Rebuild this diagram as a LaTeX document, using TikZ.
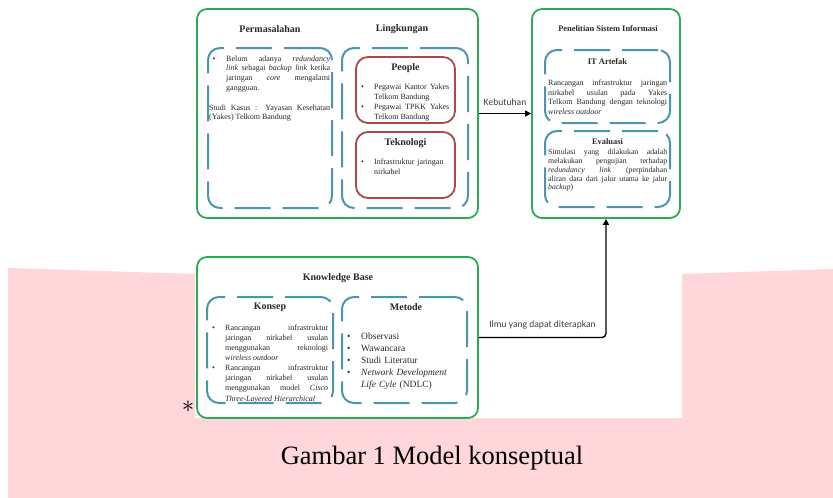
\documentclass[tikz,border=0pt]{standalone}
\usepackage{fontspec}
\setmainfont{Liberation Serif}
\newfontfamily\calfont{Carlito}
\usetikzlibrary{arrows.meta}
\definecolor{grn}{RGB}{45,170,85}
\definecolor{blu}{RGB}{75,150,175}
\definecolor{redb}{RGB}{170,75,70}
\definecolor{pinkbg}{RGB}{255,214,218}
\definecolor{txt}{RGB}{40,40,40}
\newcommand\bul[3]{\par\noindent\hangindent=#2\hangafter=1\makebox[#2][l]{\hspace{#1}\textbullet}#3\par}
\tikzset{
  greenbox/.style={draw=grn, line width=1.8pt, rounded corners=10pt, inner sep=0pt},
  dashbox/.style={draw=blu, line width=2pt, rounded corners=12pt, dash pattern=on 36pt off 12pt, inner sep=0pt},
  redbox/.style={draw=redb, line width=1.8pt, rounded corners=12pt, inner sep=0pt},
  ttl/.style={font=\bfseries\fontsize{10}{12}\selectfont, inner sep=0pt, text=txt},
  body/.style={inner sep=0pt, anchor=north west, text=txt, align=justify},
  conn/.style={line width=1.4pt, -{Triangle[length=6pt,width=6pt]}, rounded corners=4pt},
  lbl/.style={font=\calfont\fontsize{9.6}{11}\selectfont, inner sep=0pt, text=black!75}
}
\begin{document}
\begin{tikzpicture}[x=1pt,y=-1pt]
\useasboundingbox (0,0) rectangle (833,498);
\fill[white] (0,0) rectangle (833,498);
\fill[pinkbg] (8,268) -- (195,274) -- (195,418) -- (682,418) -- (682,274) -- (833,269) -- (833,498) -- (8,498) -- cycle;

% green boxes
\node[greenbox, minimum width=281pt, minimum height=209pt] (masalah) at (337.5,113.5) {};
\node[greenbox, minimum width=148pt, minimum height=209pt] (penelitian) at (606,113.5) {};
\node[greenbox, minimum width=281pt, minimum height=161pt] (kb) at (337.5,337.5) {};

% titles top-left
\node[ttl] (tperm) at (270,29) {Permasalahan};
\node[ttl] (tling) at (402,29) {Lingkungan};
\node[dashbox, minimum width=124pt, minimum height=160pt] (pbox) at (270,128) {};
\node[dashbox, minimum width=126pt, minimum height=160pt] (lbox) at (405,128) {};
\node[redbox, minimum width=99pt, minimum height=66pt] (people) at (405.5,90) {};
\node[redbox, minimum width=99pt, minimum height=66pt] (tekno) at (405.5,165) {};

\node[body, text width=121pt, font=\fontsize{8}{9.8}\selectfont] (ptext) at (209,51) {%
\bul{3.5pt}{17pt}{Belum adanya \textit{redundancy}\linebreak \textit{link} sebagai \textit{backup link} ketika\linebreak jaringan \textit{core} mengalami\linebreak gangguan.}
\vspace{9.8pt}
\noindent Studi Kasus : Yayasan Kesehatan\linebreak (Yakes) Telkom Bandung\par};

\node[ttl] (tpeople) at (405.5,68) {People};
\node[body, text width=88pt, font=\fontsize{8}{9.7}\selectfont] (peopletext) at (361,80) {%
\bul{0pt}{13pt}{Pegawai Kantor Yakes\linebreak Telkom Bandung}
\bul{0pt}{13pt}{Pegawai TPKK Yakes\linebreak Telkom Bandung}};

\node[ttl] (ttekno) at (405.5,143) {Teknologi};
\node[body, text width=88pt, font=\fontsize{8}{9.7}\selectfont, align=left] (teknotext) at (361,155) {%
\bul{0pt}{13pt}{Infrastruktur jaringan\linebreak nirkabel}};

% right box
\node[ttl, font=\bfseries\fontsize{8.4}{10}\selectfont] (tpen) at (608,29) {Penelitian Sistem Informasi};
\node[dashbox, minimum width=125pt, minimum height=73pt] (itbox) at (607.5,86.5) {};
\node[dashbox, minimum width=125pt, minimum height=76pt] (evbox) at (607.5,169) {};
\node[ttl, font=\bfseries\fontsize{8.5}{10}\selectfont] (tit) at (607.5,62) {IT Artefak};
\node[body, text width=119pt, font=\fontsize{8}{9.4}\selectfont] (ittext) at (548,80) {%
\noindent Rancangan infrastruktur jaringan\linebreak nirkabel usulan pada Yakes\linebreak Telkom Bandung dengan teknologi\linebreak \textit{wireless outdoor}\par};
\node[ttl, font=\bfseries\fontsize{8.4}{10}\selectfont] (tev) at (607.5,142) {Evaluasi};
\node[body, text width=119pt, font=\fontsize{7.8}{8.8}\selectfont] (evtext) at (548,149) {%
\noindent Simulasi yang dilakukan adalah\linebreak melakukan pengujian terhadap\linebreak \textit{redundancy link} (perpindahan\linebreak aliran data dari jalur utama ke jalur\linebreak \textit{backup})\par};

% knowledge base
\node[ttl] (tkb) at (338,278) {Knowledge Base};
\node[dashbox, minimum width=126pt, minimum height=106pt] (konsep) at (270,350) {};
\node[dashbox, minimum width=125pt, minimum height=106pt] (metode) at (404.5,350) {};
\node[ttl] (tkonsep) at (270,307) {Konsep};
\node[ttl] (tmetode) at (406,307) {Metode};
\node[body, text width=116pt, font=\fontsize{8}{10.1}\selectfont] (konseptext) at (212,320) {%
\bul{0pt}{13pt}{Rancangan infrastruktur\linebreak jaringan nirkabel usulan\linebreak menggunakan teknologi\linebreak \textit{wireless outdoor}}
\bul{0pt}{13pt}{Rancangan infrastruktur\linebreak jaringan nirkabel usulan\linebreak menggunakan model \textit{Cisco}\linebreak \textit{Three-Layered Hierarchical}}};
\node[body, text width=116pt, font=\fontsize{9.5}{12}\selectfont, align=left] (metodetext) at (347,327) {%
\bul{0pt}{14pt}{Observasi}
\bul{0pt}{14pt}{Wawancara}
\bul{0pt}{14pt}{Studi Literatur}
\bul{0pt}{14pt}{\textit{Network Development}\linebreak \textit{Life Cyle} (NDLC)}};

% connectors
\draw[conn] (masalah.east) -- (penelitian.west);
\node[lbl] (lkeb) at (505,102) {Kebutuhan};
\draw[conn] (kb.east) -| (penelitian.south);
\node[lbl] (lilmu) at (542.5,325) {Ilmu yang dapat diterapkan};

% asterisk and caption
\node[inner sep=0pt, font=\fontsize{24}{24}\selectfont] (star) at (188,407) {$\ast$};
\node[inner sep=0pt, font=\fontsize{26.5}{30}\selectfont, text=black] (caption) at (432,458) {Gambar 1 Model konseptual};
\end{tikzpicture}
\end{document}
